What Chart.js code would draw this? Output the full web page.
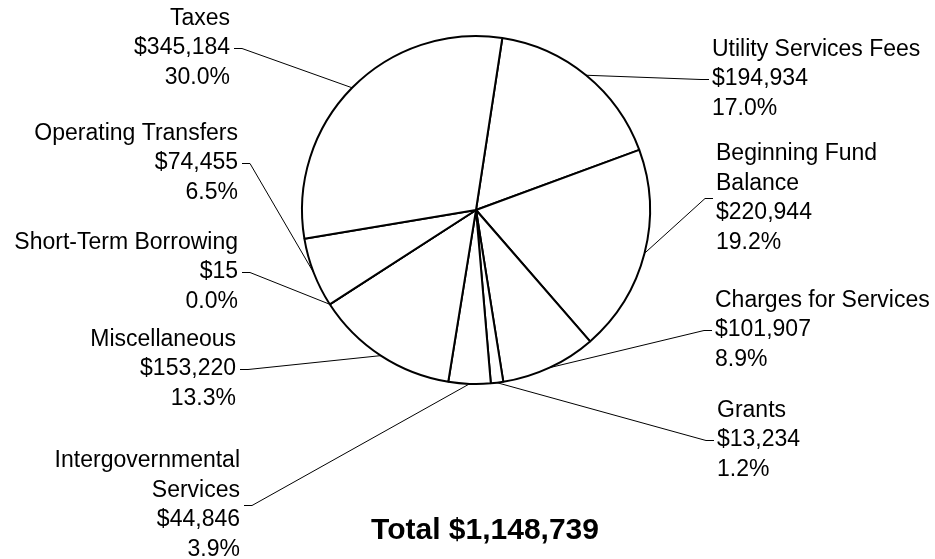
<!DOCTYPE html>
<html>
<head>
<meta charset="utf-8">
<script src="https://cdn.jsdelivr.net/npm/chart.js@4"></script>
<style>
  html, body { margin: 0; padding: 0; background: #fff; }
  #wrap { width: 935px; height: 559px; position: relative; }
</style>
</head>
<body>
<div id="wrap"><canvas id="pie"></canvas></div>
<script>
// revenue sources, clockwise from the top
const categories = [
    ['Utility Services Fees'],
    ['Beginning Fund', 'Balance'],
    ['Charges for Services'],
    ['Grants'],
    ['Intergovernmental', 'Services'],
    ['Miscellaneous'],
    ['Short-Term Borrowing'],
    ['Operating Transfers'],
    ['Taxes']
];
const amounts = [194934, 220944, 101907, 13234, 44846, 153220, 15, 74455, 345184];

// where each label block sits: side, text edge x, block centre y
const labelSide = ['R', 'R', 'R', 'R', 'L', 'L', 'L', 'L', 'L'];
const labelX = [712, 716, 715, 717, 240, 236, 238, 238, 230];
const labelY = [79, 198, 330, 440, 505, 369, 272, 163, 48];

const FONT = '"Liberation Sans", Arial, sans-serif';
const LINE_H = 29.5;

const total = amounts.reduce((a, b) => a + b, 0);
const money = v => '$' + v.toLocaleString('en-US');

const outerLabels = {
    id: 'outerLabels',
    afterDatasetsDraw(chart) {
        const ctx = chart.ctx;
        const meta = chart.getDatasetMeta(0);
        ctx.save();
        ctx.fillStyle = '#000';
        ctx.strokeStyle = '#000';
        ctx.lineWidth = 1;
        ctx.font = '23px ' + FONT;
        ctx.textBaseline = 'middle';

        meta.data.forEach((arc, i) => {
            const mid = (arc.startAngle + arc.endAngle) / 2;
            const ex = arc.x + Math.cos(mid) * arc.outerRadius;
            const ey = arc.y + Math.sin(mid) * arc.outerRadius;
            const right = labelSide[i] === 'R';
            const tx = labelX[i];
            const ty = labelY[i];
            const tickEnd = right ? tx - 3 : tx + 4;
            const tickStart = right ? tickEnd - 8 : tickEnd + 8;

            ctx.beginPath();
            ctx.moveTo(ex, ey);
            ctx.lineTo(tickStart, ty + 0.5);
            ctx.lineTo(tickEnd, ty + 0.5);
            ctx.stroke();

            const lines = categories[i].concat([
                money(amounts[i]),
                (amounts[i] / total * 100).toFixed(1) + '%'
            ]);
            ctx.textAlign = right ? 'left' : 'right';
            const top = ty - (lines.length - 1) * LINE_H / 2;
            lines.forEach((t, k) => ctx.fillText(t, tx, top + k * LINE_H));
        });

        ctx.font = 'bold 30px ' + FONT;
        ctx.textAlign = 'center';
        ctx.fillText('Total ' + money(total), 485, 531);
        ctx.restore();
    }
};

new Chart(document.getElementById('pie'), {
    type: 'pie',
    data: {
        labels: categories.map(c => c.join(' ')),
        datasets: [{
            data: amounts,
            backgroundColor: '#ffffff',
            borderColor: '#000000',
            borderWidth: 2,
            hoverOffset: 0
        }]
    },
    options: {
        responsive: true,
        maintainAspectRatio: false,
        animation: false,
        rotation: 8.7,
        layout: { padding: { top: 35, bottom: 174, left: 301, right: 284 } },
        plugins: {
            legend: { display: false },
            tooltip: { enabled: false }
        }
    },
    plugins: [outerLabels]
});
</script>
</body>
</html>
